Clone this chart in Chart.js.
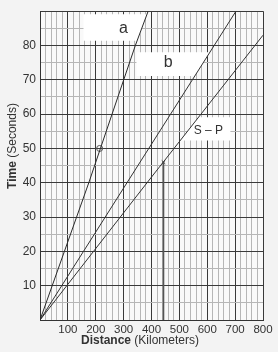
<!DOCTYPE html>
<html>
<head>
<meta charset="utf-8">
<script src="https://cdn.jsdelivr.net/npm/chart.js@4.4.0/dist/chart.umd.min.js"></script>
<style>
  body { margin: 0; background: #f3f3f3; }
  #wrap { width: 278px; height: 352px; }
</style>
</head>
<body>
<div id="wrap"><canvas id="graph-travel"></canvas></div>
<script>
// Valores (distancia en km, tiempo en s)
const distA = [0, 175, 342, 388];
const timeA = [0, 40, 80, 90];
const distB = [0, 312, 703];
const timeB = [0, 40, 90];
const distSP = [0, 384, 800];
const timeSP = [0, 40, 83];
// marcas hechas a mano sobre la hoja
const circleDist = [214];
const circleTime = [50];
const handDist = [443, 443];
const handTime = [0, 46];
const crossDist = [443];
const crossTime = [46];

// Ejes
const xMax = 800;
const yMax = 90;
const xTickLabels = [100, 200, 300, 400, 500, 600, 700, 800];
const yTickLabels = [10, 20, 30, 40, 50, 60, 70, 80];

function puntos(xs, ys) {
  return xs.map((x, i) => ({ x: x, y: ys[i] }));
}

// pendiente de una recta (s/km) desde sus extremos
function pendiente(xs, ys) {
  return ys[ys.length - 1] / xs[xs.length - 1];
}

// Cajas blancas detrás de las etiquetas, con un borde sobre la recta
const cajas = [
  { left: 156, tTop: 89.1, tBot: 81.4, line: [distA, timeA], side: "right" },
  { left: 346, tTop: 78, tBot: 71.1, line: [distB, timeB], side: "right" },
  { right: 683, tTop: 59.1, tBot: 52.3, line: [distSP, timeSP], side: "left" },
];

const etiquetas = [
  { text: "a", d: 299, t: 84.9, font: "16px 'Liberation Sans', Arial, sans-serif" },
  { text: "b", d: 460, t: 74.9, font: "16px 'Liberation Sans', Arial, sans-serif" },
  { text: "S – P", d: 604, t: 55.1, font: "12px 'Liberation Sans', Arial, sans-serif" },
];

const hoja = {
  id: "hoja",
  beforeDraw(chart) {
    const ctx = chart.ctx;
    ctx.save();
    ctx.fillStyle = "#f3f3f3";
    ctx.fillRect(0, 0, chart.width, chart.height);
    const a = chart.chartArea;
    ctx.fillStyle = "#f9f9f9";
    ctx.fillRect(a.left, a.top, a.right - a.left, a.bottom - a.top);
    ctx.restore();
  },
  beforeDatasetsDraw(chart) {
    const ctx = chart.ctx;
    const xs = chart.scales.x, ys = chart.scales.y;
    ctx.save();
    ctx.fillStyle = "#ffffff";
    cajas.forEach(c => {
      const m = pendiente(c.line[0], c.line[1]);
      const yTop = ys.getPixelForValue(c.tTop);
      const yBot = ys.getPixelForValue(c.tBot);
      const xLineTop = xs.getPixelForValue(c.tTop / m);
      const xLineBot = xs.getPixelForValue(c.tBot / m);
      ctx.beginPath();
      if (c.side === "right") {
        const xl = xs.getPixelForValue(c.left);
        ctx.moveTo(xl, yTop);
        ctx.lineTo(xLineTop, yTop);
        ctx.lineTo(xLineBot, yBot);
        ctx.lineTo(xl, yBot);
      } else {
        const xr = xs.getPixelForValue(c.right);
        ctx.moveTo(xLineTop, yTop);
        ctx.lineTo(xr, yTop);
        ctx.lineTo(xr, yBot);
        ctx.lineTo(xLineBot, yBot);
      }
      ctx.closePath();
      ctx.fill();
    });
    ctx.restore();
  },
  afterDraw(chart) {
    const ctx = chart.ctx;
    const xs = chart.scales.x, ys = chart.scales.y;
    ctx.save();
    ctx.fillStyle = "#333";
    ctx.textAlign = "center";
    ctx.textBaseline = "middle";
    etiquetas.forEach(e => {
      ctx.font = e.font;
      ctx.fillText(e.text, xs.getPixelForValue(e.d), ys.getPixelForValue(e.t));
    });

    // Título eje X: "Distance" en negrita + "(Kilometers)"
    const bold = "bold 12px 'Liberation Sans', Arial, sans-serif";
    const normal = "12px 'Liberation Sans', Arial, sans-serif";
    ctx.textAlign = "left";
    ctx.font = bold;
    const w1 = ctx.measureText("Distance ").width;
    ctx.font = normal;
    const w2 = ctx.measureText("(Kilometers)").width;
    let x0 = 140 - (w1 + w2) / 2;
    ctx.font = bold;
    ctx.fillText("Distance ", x0, 341);
    ctx.font = normal;
    ctx.fillText("(Kilometers)", x0 + w1, 341);

    // Título eje Y rotado
    ctx.translate(13, 146);
    ctx.rotate(-Math.PI / 2);
    ctx.font = bold;
    const v1 = ctx.measureText("Time ").width;
    ctx.font = normal;
    const v2 = ctx.measureText("(Seconds)").width;
    let y0 = -(v1 + v2) / 2;
    ctx.font = bold;
    ctx.fillText("Time ", y0, 0);
    ctx.font = normal;
    ctx.fillText("(Seconds)", y0 + v1, 0);
    ctx.restore();
  },
};

const lineaBase = {
  showLine: true,
  pointRadius: 0,
  borderColor: "#333",
  borderWidth: 1,
  fill: false,
};

const canvas = document.getElementById("graph-travel");

const grafica = new Chart(canvas, {
  type: "scatter",
  data: {
    datasets: [
      Object.assign({}, lineaBase, { label: "a", data: puntos(distA, timeA), borderColor: "#2a2a2a" }),
      Object.assign({}, lineaBase, { label: "b", data: puntos(distB, timeB) }),
      Object.assign({}, lineaBase, { label: "S - P", data: puntos(distSP, timeSP) }),
      Object.assign({}, lineaBase, { label: "trazo", data: puntos(handDist, handTime), borderColor: "#555", borderWidth: 1.6 }),
      {
        label: "circulo",
        data: puntos(circleDist, circleTime),
        showLine: false,
        pointRadius: 3,
        pointStyle: "circle",
        borderColor: "#555",
        borderWidth: 1,
        backgroundColor: "rgba(0,0,0,0)",
      },
      {
        label: "cruz",
        data: puntos(crossDist, crossTime),
        showLine: false,
        pointRadius: 2.5,
        pointStyle: "crossRot",
        borderColor: "#444",
        borderWidth: 1,
      },
    ],
  },
  options: {
    responsive: true,
    maintainAspectRatio: false,
    animation: false,
    layout: { padding: { top: 5, right: 15, left: 0, bottom: 0 } },
    plugins: {
      legend: { display: false },
      tooltip: { enabled: false },
    },
    scales: {
      x: {
        type: "linear",
        min: 0,
        max: xMax,
        afterFit(scale) { scale.height = 32; },
        border: { color: "#333", width: 1 },
        grid: {
          drawTicks: false,
          color: c => (c.tick.value % 100 === 0 ? "#3a3a3a" : "#b6b6b6"),
        },
        ticks: {
          stepSize: 20,
          autoSkip: false,
          maxRotation: 0,
          minRotation: 0,
          padding: 3,
          color: "#333",
          font: { family: "'Liberation Sans Narrow', 'Liberation Sans', Arial, sans-serif", size: 11.5 },
          callback: v => (xTickLabels.includes(v) ? String(v) : ""),
        },
      },
      y: {
        type: "linear",
        min: 0,
        max: yMax,
        afterFit(scale) { scale.width = 40; },
        border: { color: "#333", width: 1 },
        grid: {
          drawTicks: false,
          color: c => (c.tick.value % 10 === 0 ? "#3a3a3a" : "#b6b6b6"),
        },
        ticks: {
          stepSize: 5,
          autoSkip: false,
          padding: 4,
          color: "#333",
          font: { family: "'Liberation Sans', Arial, sans-serif", size: 12 },
          callback: v => (yTickLabels.includes(v) ? String(v) : ""),
        },
      },
    },
  },
  plugins: [hoja],
});
</script>
</body>
</html>
